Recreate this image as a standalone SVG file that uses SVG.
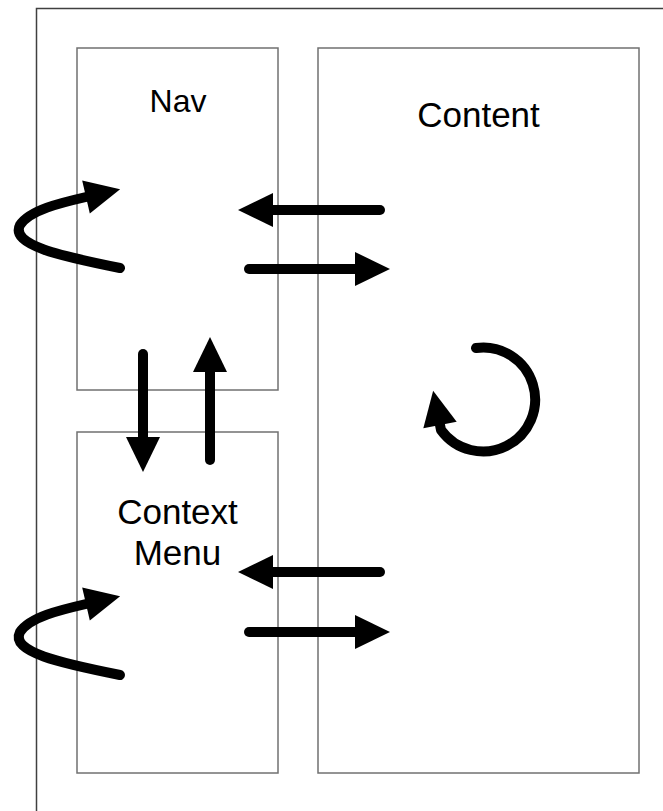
<svg xmlns="http://www.w3.org/2000/svg" width="663" height="811" viewBox="0 0 663 811">
<style>
.box{fill:#fff;stroke:#707070;stroke-width:1.5}
.frame{fill:#fff;stroke:#404040;stroke-width:1.5}
.lbl{font-family:"Liberation Sans",Arial,sans-serif;font-size:35px;fill:#000;text-anchor:middle}
.arr{fill:none;stroke:#000;stroke-width:10;stroke-linecap:round;stroke-linejoin:round;marker-end:url(#head)}
</style>
<defs>
<marker id="head" markerUnits="userSpaceOnUse" markerWidth="36" markerHeight="36" viewBox="0 -18 36 36" refX="0" refY="0" orient="auto" overflow="visible">
<path d="M0,-17 L35,0 L0,17 z" fill="#000"/>
</marker>
</defs>
<rect class="frame" x="36.5" y="8.5" width="700" height="900"/>
<g id="nav">
<rect class="box" x="77" y="48" width="201" height="342"/>
<text class="lbl" x="178" y="112" style="font-size:32px">Nav</text>
</g>
<g id="content">
<rect class="box" x="318" y="48" width="321" height="725"/>
<text class="lbl" x="478.5" y="127">Content</text>
</g>
<g id="context-menu">
<rect class="box" x="77" y="432" width="201" height="341"/>
<text class="lbl" x="177.5" y="524">Context</text>
<text class="lbl" x="177.5" y="565">Menu</text>
</g>
<g id="connectors">
<path class="arr" d="M120,268 C60,256 10,245 20,225 C30,210 60,203 86,197"/>
<path class="arr" d="M380,210 L273,210"/>
<path class="arr" d="M249,269 L355,269"/>
<path class="arr" d="M143,354 L143,437"/>
<path class="arr" d="M210,460 L210,372"/>
<path class="arr" d="M476,348 A52,52 0 1 1 441,430 L440,425"/>
<path class="arr" d="M380,572 L273,572"/>
<path class="arr" d="M249,632 L355,632"/>
<path class="arr" d="M120,675 C60,663 10,652 20,632 C30,617 60,610 86,604"/>
</g>
</svg>
